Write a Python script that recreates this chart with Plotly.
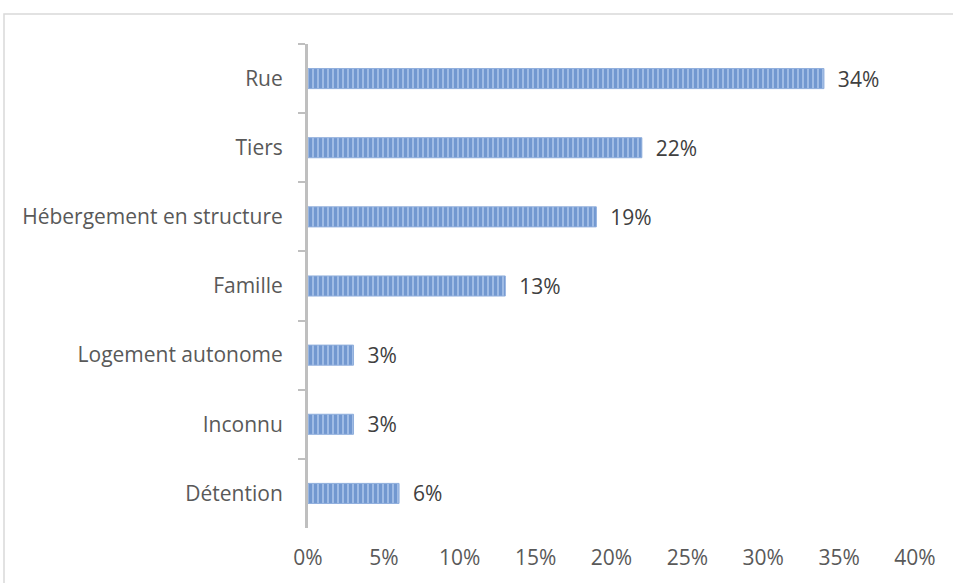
import plotly.graph_objects as go

categories = ["Rue", "Tiers", "Hébergement en structure", "Famille",
              "Logement autonome", "Inconnu", "Détention"]
values = [34, 22, 19, 13, 3, 3, 6]
x_ticks = [0, 5, 10, 15, 20, 25, 30, 35, 40]
x_tick_labels = [f"{v}%" for v in x_ticks]

L, R, T, B = 308, 38, 44, 55
W, H = 953, 583
pw = W - L - R
ph = H - T - B
FONT = "Open Sans"
FS = 21

fig = go.Figure(go.Bar(
    x=values, y=categories, orientation="h",
    width=0.29,
    marker=dict(color="#A0BCE5",
                line=dict(color="#8FAEDC", width=1),
                pattern=dict(shape="|", fgcolor="#4473BC", size=5, solidity=0.6)),
    text=[f"{v}%" for v in values],
    texttemplate="  %{text}",
    textposition="outside",
    constraintext="none",
    textfont=dict(family=FONT, size=FS, color="#404040"),
    cliponaxis=False,
))

fig.update_layout(
    width=W, height=H,
    margin=dict(l=L, r=R, t=T, b=B),
    paper_bgcolor="white", plot_bgcolor="white",
    showlegend=False,
    font=dict(family=FONT, size=FS, color="#595959"),
    xaxis=dict(range=[0, 40], tickvals=x_ticks, ticktext=x_tick_labels,
               showgrid=False, zeroline=False, showline=False,
               ticks="", ticklabelstandoff=15,
               tickfont=dict(family=FONT, size=FS, color="#595959")),
    yaxis=dict(autorange="reversed", showgrid=False, zeroline=False,
               showline=True, linecolor="#BFBFBF", linewidth=3,
               ticks="outside", tickson="boundaries", ticklen=7,
               tickcolor="#BFBFBF", tickwidth=2, ticklabelstandoff=18,
               tickfont=dict(family=FONT, size=FS, color="#595959")),
    shapes=[dict(type="rect", xref="paper", yref="paper",
                 x0=(4 - L) / pw, x1=1.2, y0=-0.3, y1=1 + (T - 14) / ph,
                 line=dict(color="#D9D9D9", width=1.5), fillcolor="rgba(0,0,0,0)",
                 layer="below")],
)

fig.write_html("out.html", config={"displayModeBar": False},
               post_script="document.body.style.margin='0';document.body.style.padding='0';")
